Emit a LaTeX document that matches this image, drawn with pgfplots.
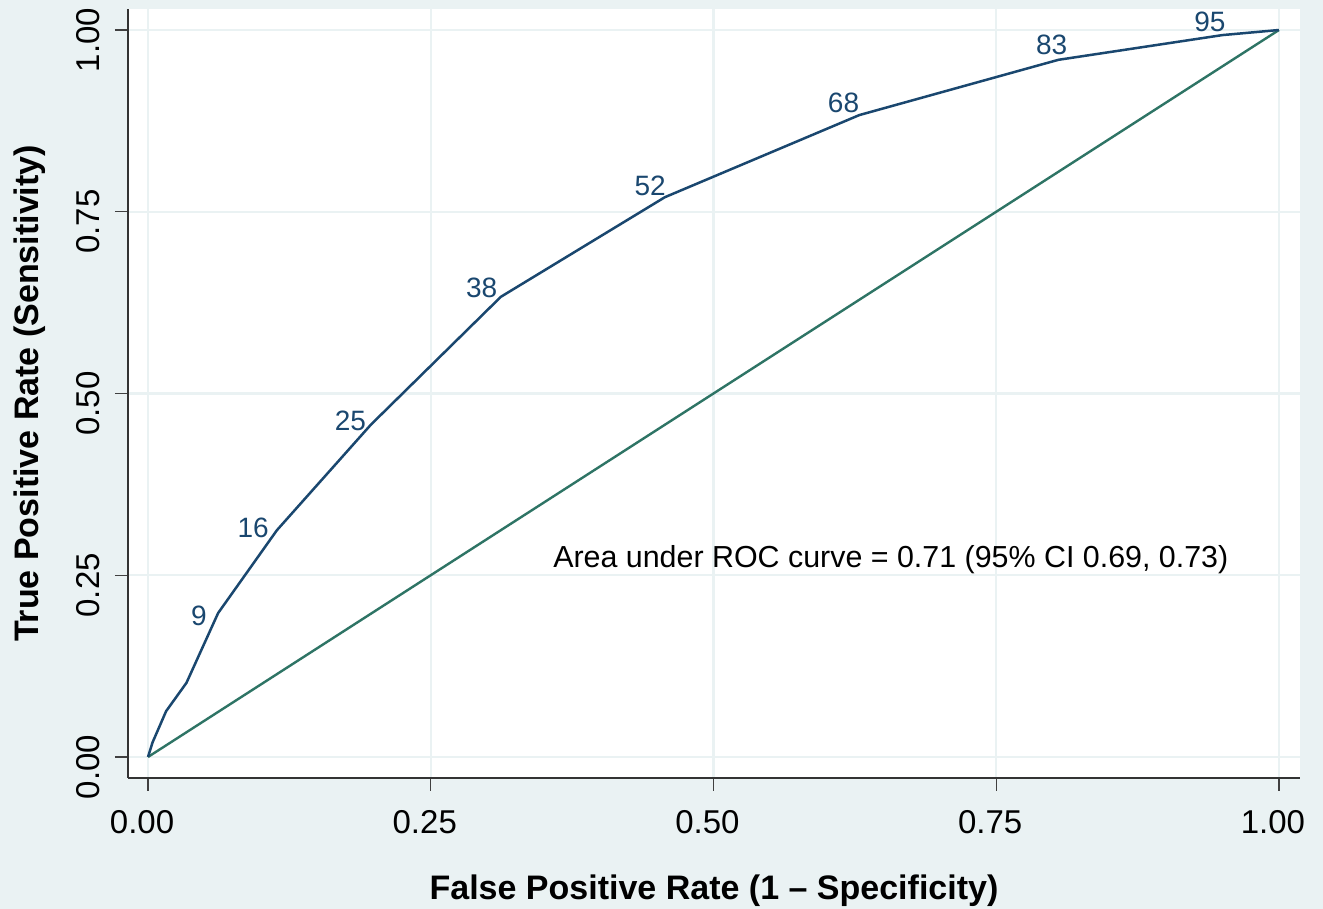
\documentclass[border=0pt]{standalone}
\usepackage{pgfplots}
\pgfplotsset{compat=1.18}
\usepackage{fontspec}
\setmainfont{Liberation Sans}
\definecolor{bg}{RGB}{234,242,243}
\definecolor{navy}{RGB}{26,71,111}
\definecolor{teal}{RGB}{46,116,101}
\begin{document}
\begin{tikzpicture}
\path[use as bounding box, fill=bg] (-64pt,-65.5pt) rectangle (597.5pt,389pt);
\begin{axis}[
  at={(0,0)}, anchor=south west,
  width=586pt, height=384.5pt, scale only axis,
  xmin=-0.0177, xmax=1.0186, ymin=-0.0289, ymax=1.0289,
  axis x line*=bottom, axis y line*=left,
  axis line style={color=black!80, line width=0.7pt},
  axis background/.style={fill=white},
  xtick={0,0.25,0.5,0.75,1}, ytick={0,0.25,0.5,0.75,1},
  tick align=outside, major tick length=6.5pt,
  tick style={color=black!75, line width=0.7pt},
  grid=major, major grid style={color=bg, line width=1.1pt},
  /pgf/number format/assume math mode=true,
  /pgf/number format/.cd, fixed, fixed zerofill, precision=2, /pgfplots/.cd,
  ticklabel style={font=\fontsize{16.5}{18}\selectfont},
  yticklabel style={xshift=-4pt, yshift=-5pt, rotate=90, anchor=south},
  xticklabel style={xshift=-3pt, yshift=-6pt},
  xlabel={\textbf{False Positive Rate (1 -- Specificity)}},
  ylabel={\textbf{True Positive Rate (Sensitivity)}},
  label style={font=\fontsize{17}{19}\selectfont},
  xlabel style={at={(axis description cs:0.5,-0.146)}, anchor=center},
  ylabel style={at={(axis description cs:-0.0836,0.5)}, anchor=center},
  clip=false,
]
\addplot[teal, line width=1.2pt] coordinates {(0,0) (1,1)};
\addplot[navy, line width=1.25pt] coordinates {
(0,0) (0.004,0.02) (0.016,0.063) (0.034,0.102) (0.062,0.198)
(0.114,0.312) (0.197,0.457) (0.312,0.633) (0.457,0.770)
(0.629,0.883) (0.805,0.959) (0.950,0.993) (1,1)};
\begin{scope}[every node/.style={text=navy, font=\fontsize{14}{16}\selectfont, inner sep=0pt}]
\node at (axis cs:0.045,0.194) {9};
\node at (axis cs:0.093,0.315) {16};
\node at (axis cs:0.179,0.462) {25};
\node at (axis cs:0.295,0.645) {38};
\node at (axis cs:0.444,0.785) {52};
\node at (axis cs:0.615,0.900) {68};
\node at (axis cs:0.799,0.979) {83};
\node at (axis cs:0.939,1.011) {95};
\end{scope}
\node[font=\fontsize{15.2}{17}\selectfont, anchor=west, inner sep=0pt] at (axis cs:0.358,0.272) {Area under ROC curve = 0.71 (95\% CI 0.69, 0.73)};
\end{axis}
\end{tikzpicture}
\end{document}
